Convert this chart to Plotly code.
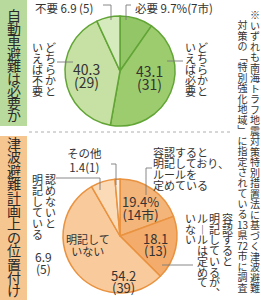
import plotly.graph_objects as go

W, H = 261, 300

# ---- data ----
q1_labels = ["必要", "どちらかといえば必要", "どちらかといえば不要", "不要"]
q1_pct = [9.7, 43.1, 40.3, 6.9]
q1_counts = [7, 31, 29, 5]
q1_colors = ["#93c667", "#9dcc6f", "#c6e1a3", "#d6ebbd"]

q2_labels = ["容認すると明記しており、ルールを定めている",
             "容認すると明記しているが、ルールは定めていない",
             "明記していない", "認めないと明記している", "その他"]
q2_pct = [19.4, 18.1, 54.2, 6.9, 1.4]
q2_counts = [14, 13, 39, 5, 1]
q2_colors = ["#f4b57b", "#f3ac6c", "#f9cb9c", "#fbdab8", "#fff0e2"]

title1 = "自動車避難は必要か"
title2 = "津波避難計画上の位置付け"
note_col1 = ["※", "い", "ず", "れ", "も", "南", "海", "ト", "ラ", "フ", "地", "震", "対", "策",
             "特", "別", "措", "置", "法", "に", "基", "づ", "く", "津", "波", "避", "難"]
note_col2 = ["対", "策", "の", "﹁", "特", "別", "強", "化", "地", "域", "﹂", "に", "指", "定",
             "さ", "れ", "て", "い", "る", "13", "県", "72", "市", "に", "調", "査"]

FONT = "Noto Sans CJK JP"
TXT = "#333333"
LEAD = "#7a7a7a"


def px(x):
    return x / W


def py(y):
    return 1 - y / H


annotations = []
shapes = []


def block(lines, x, y0, dy, size=11, color=TXT, xanchor="center", align="center"):
    """Multi-line text: line spacing dy px, glyph size `size` px; y0 = centre of first line."""
    n = len(lines)
    body = "<br>".join(f"<span style='font-size:{size}px'>{s}</span>" for s in lines)
    yc = y0 + (n - 1) * dy / 2
    annotations.append(dict(text=body, x=px(x), y=py(yc), xref="paper", yref="paper",
                            showarrow=False, xanchor=xanchor, yanchor="middle", align=align,
                            font=dict(family=FONT, size=dy / 1.3, color=color)))


def text(s, x, y, size=11, color=TXT, xanchor="center"):
    annotations.append(dict(text=s, x=px(x), y=py(y), xref="paper", yref="paper",
                            showarrow=False, xanchor=xanchor, yanchor="middle",
                            font=dict(family=FONT, size=size, color=color)))


def line(pts, color=LEAD, width=0.9, dash=None):
    for (x0, y0), (x1, y1) in zip(pts[:-1], pts[1:]):
        shapes.append(dict(type="line", xref="paper", yref="paper",
                           x0=px(x0), y0=py(y0), x1=px(x1), y1=py(y1),
                           line=dict(color=color, width=width, dash=dash)))


fig = go.Figure()

# top pie
fig.add_trace(go.Pie(values=q1_pct, labels=q1_labels, sort=False, direction="clockwise",
                     rotation=0, textinfo="none", hoverinfo="skip",
                     marker=dict(colors=q1_colors, line=dict(color="#62a536", width=1.5)),
                     domain=dict(x=[px(65), px(175)], y=[py(126), py(16)])))
# bottom pie
fig.add_trace(go.Pie(values=q2_pct, labels=q2_labels, sort=False, direction="clockwise",
                     rotation=0, textinfo="none", hoverinfo="skip",
                     marker=dict(colors=q2_colors, line=dict(color="#e9923f", width=1.5)),
                     domain=dict(x=[px(63), px(177)], y=[py(293), py(179)])))

# left strips
shapes.append(dict(type="rect", xref="paper", yref="paper", x0=0, x1=px(27),
                   y0=py(126), y1=py(0), fillcolor="#b8da9c", line=dict(width=0), layer="below"))
shapes.append(dict(type="rect", xref="paper", yref="paper", x0=0, x1=px(27),
                   y0=py(300), y1=py(136), fillcolor="#f6c691", line=dict(width=0), layer="below"))
block(list(title1), 13.5, 15, 12.5, size=14, color="#2a2a2a")
block(list(title2), 13.5, 143, 13.4, size=14, color="#2a2a2a")

# separator
line([(29, 132), (233, 132)], color="#9a9a9a", width=0.8, dash="dot")

# note (vertical, right side)
block(note_col1, 255, 14, 10.5, size=10)
block(note_col2, 243, 25, 10.5, size=10)

# ---- top pie labels ----
text(f"{q1_labels[3]} {q1_pct[3]} ({q1_counts[3]})", 33, 8, size=11.5, xanchor="left")
line([(103, 5), (111, 5), (111, 20)])
text(f"{q1_labels[0]} {q1_pct[0]}%({q1_counts[0]}市)", 133, 8, size=11.5, xanchor="left")
line([(131, 5), (126, 5), (126, 20)])

block([f"{q1_pct[2]}", f"({q1_counts[2]})"], 86, 69, 13, size=14)
block([f"{q1_pct[1]}", f"({q1_counts[1]})"], 149, 71, 13, size=14)

block(list("どちらかと"), 50, 47, 11)
block(list("いえば不要"), 37, 47, 11)
line([(57, 62), (73, 62)])
block(list("どちらかと"), 202, 47, 11)
block(list("いえば必要"), 190, 47, 11)
line([(167, 61), (183, 61)])

# ---- bottom pie labels ----
block([q2_labels[4], f"{q2_pct[4]}({q2_counts[4]})"], 85, 153, 14, size=11.5)
line([(111, 164), (116, 164), (116, 185)])

block(list("認めないと"), 50, 179, 11)
block(list("明記している"), 37, 179, 11)
block([f"{q2_pct[3]}", f"({q2_counts[3]})"], 43, 256, 12, size=12)
line([(56, 178), (100, 178), (100, 190)])

block(["容認すると", "明記しており、", "ルールを", "定めている"], 151, 152, 11,
      size=11, xanchor="left", align="left")
line([(152, 168), (146, 168), (146, 195)])

block(list("容認すると"), 227, 218, 10.7)
block(list("明記しているが︑"), 214, 218, 10.7)
block(["ル", "︱", "ル", "は", "定", "め", "て"], 202, 218, 10.7)
block(list("いない"), 190, 218, 10.7)
line([(162, 265), (193, 265)])

block([f"{q2_pct[0]}%", f"({q2_counts[0]}市)"], 140, 201, 13, size=13)
block([f"{q2_pct[1]}", f"({q2_counts[1]})"], 155, 238, 12, size=13)
block([q2_labels[2][:4], q2_labels[2][4:]], 88, 239, 12, size=11)
block([f"{q2_pct[2]}", f"({q2_counts[2]})"], 123, 275, 12, size=13)

fig.update_layout(width=W, height=H, margin=dict(l=0, r=0, t=0, b=0),
                  paper_bgcolor="white", plot_bgcolor="white", showlegend=False,
                  annotations=annotations, shapes=shapes,
                  font=dict(family=FONT, color=TXT))

fig.write_html("out.html")
